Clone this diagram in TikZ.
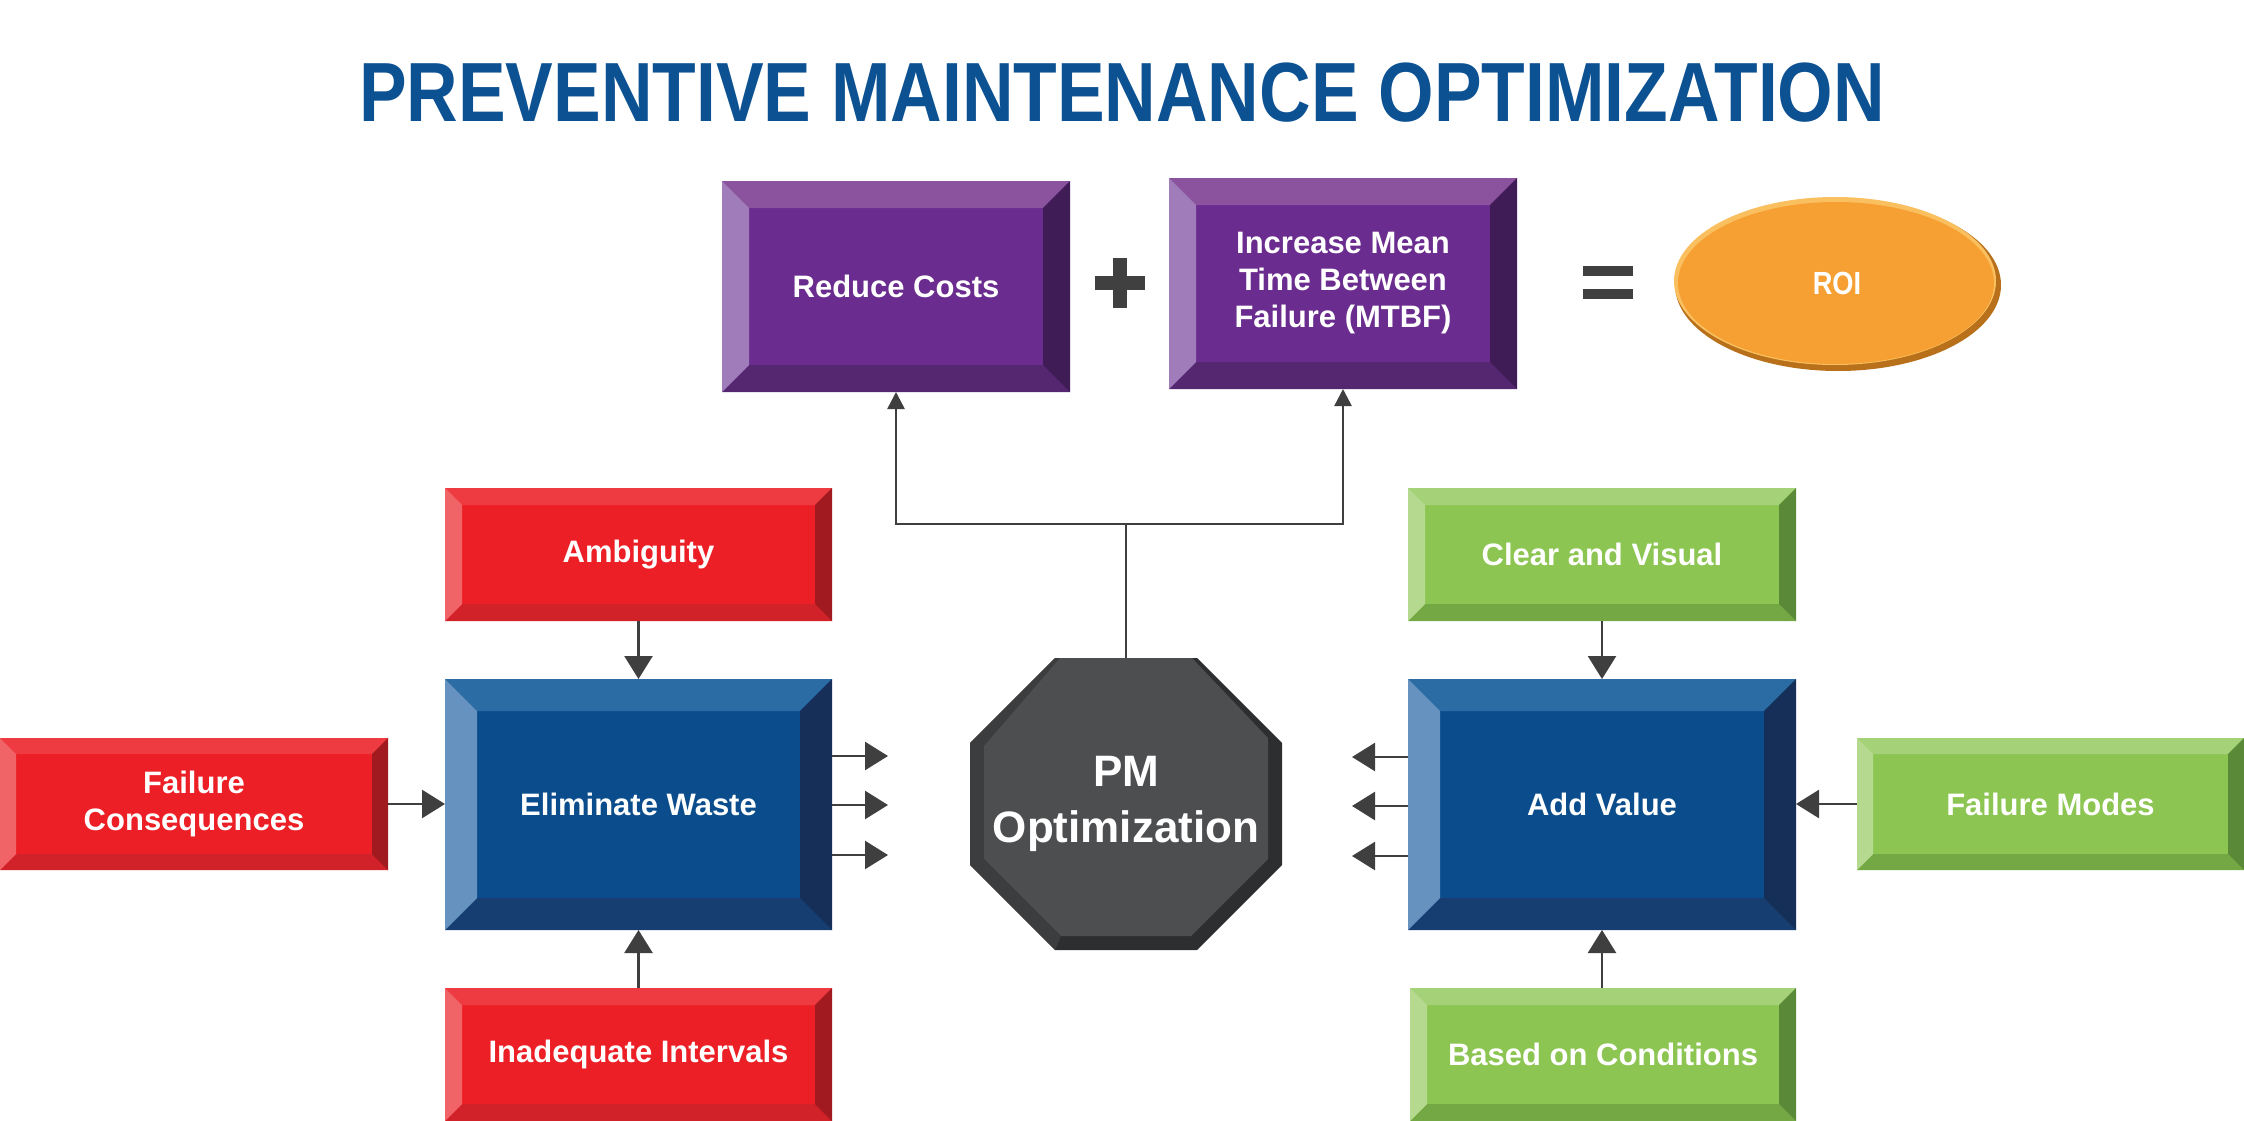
\documentclass[tikz,border=0pt]{standalone}
\usepackage{fontspec}
\setmainfont{Liberation Sans}
\usetikzlibrary{arrows.meta,shapes.geometric}
\definecolor{titleblue}{HTML}{0C5192}
\definecolor{purF}{HTML}{6A2C8E}\definecolor{purT}{HTML}{8B529E}\definecolor{purL}{HTML}{A07CBB}\definecolor{purR}{HTML}{3F1C56}\definecolor{purB}{HTML}{552770}
\definecolor{bluF}{HTML}{0B4D8C}\definecolor{bluT}{HTML}{2C6CA4}\definecolor{bluL}{HTML}{6692BF}\definecolor{bluR}{HTML}{152F58}\definecolor{bluB}{HTML}{173E70}
\definecolor{redF}{HTML}{ED1F26}\definecolor{redT}{HTML}{EE3B41}\definecolor{redL}{HTML}{F06468}\definecolor{redR}{HTML}{A01A1F}\definecolor{redB}{HTML}{D12229}
\definecolor{grnF}{HTML}{8DC553}\definecolor{grnT}{HTML}{A5D279}\definecolor{grnL}{HTML}{B5DA8F}\definecolor{grnR}{HTML}{5A8A37}\definecolor{grnB}{HTML}{73A844}
\definecolor{octF}{HTML}{4D4E50}\definecolor{octL}{HTML}{3C3D3E}\definecolor{octD}{HTML}{2D2E2F}
\definecolor{orgF}{HTML}{F6A033}\definecolor{orgD}{HTML}{B8701A}\definecolor{orgH}{HTML}{FAC060}
\definecolor{arrgray}{HTML}{3F3F3F}
\definecolor{signgray}{HTML}{404040}
\tikzset{
  boxtext/.style={text=white, font=\bfseries\fontsize{31}{37}\selectfont, align=center, inner sep=0pt, outer sep=0pt},
  conn/.style={draw=arrgray, line width=2.5pt},
  bigarr/.style={conn, -{Triangle[length=23pt,width=28pt]}},
  smallarr/.style={conn, -{Triangle[length=17pt,width=17pt]}}
}
\newcommand\bevbox[8]{%
  \fill[#7F] (#2,#3) rectangle (#4,#5);
  \fill[#7T] (#2,#3) -- (#4,#3) -- ({#4-#6},{#3+#6}) -- ({#2+#6},{#3+#6}) -- cycle;
  \fill[#7B] (#2,#5) -- (#4,#5) -- ({#4-#6},{#5-#6}) -- ({#2+#6},{#5-#6}) -- cycle;
  \fill[#7L] (#2,#3) -- ({#2+#6},{#3+#6}) -- ({#2+#6},{#5-#6}) -- (#2,#5) -- cycle;
  \fill[#7R] (#4,#3) -- ({#4-#6},{#3+#6}) -- ({#4-#6},{#5-#6}) -- (#4,#5) -- cycle;
  \node[boxtext, minimum width={(#4-#2)*1pt}, minimum height={(#5-#3)*1pt}] (#1) at ({(#2+#4)/2},{(#3+#5)/2}) {#8};
}
\begin{document}
\begin{tikzpicture}[x=1pt,y=-1pt]
\useasboundingbox (0,0) rectangle (2244,1121);
\fill[white] (0,0) rectangle (2244,1121);

% title
\node[anchor=base, text=titleblue, font=\bfseries\fontsize{84}{84}\selectfont, inner sep=0pt] (title) at (1122,122)
  {\scalebox{0.85}[1]{PREVENTIVE MAINTENANCE OPTIMIZATION}};

% top row
\bevbox{rc}{722}{181}{1070}{392}{27}{pur}{Reduce Costs}
\bevbox{mtbf}{1169}{178}{1517}{389}{27}{pur}{Increase Mean\\Time Between\\Failure (MTBF)}
\fill[signgray] (1113,258) rectangle (1127,308);
\fill[signgray] (1095,276) rectangle (1145,290);
\fill[signgray] (1583,266) rectangle (1633,276);
\fill[signgray] (1583,289) rectangle (1633,299);
\fill[orgD] (1838,285) ellipse [x radius=163pt, y radius=86pt];
\fill[orgH] (1835,281) ellipse [x radius=161pt, y radius=84pt];
\fill[orgF] (1836,283) ellipse [x radius=158pt, y radius=81pt];
\node[ellipse, minimum width=326pt, minimum height=172pt, inner sep=0pt, text=white,
  font=\bfseries\fontsize{32}{34}\selectfont] (roi) at (1837,283) {\scalebox{0.85}[1]{ROI}};

% left group
\bevbox{amb}{445}{488}{832}{621}{17}{red}{Ambiguity}
\bevbox{ew}{445}{679}{832}{930}{32}{blu}{Eliminate Waste}
\bevbox{ii}{445}{988}{832}{1121}{17}{red}{Inadequate Intervals}
\bevbox{fc}{0}{738}{388}{870}{16}{red}{Failure\\Consequences}

% right group
\bevbox{cv}{1408}{488}{1796}{621}{17}{grn}{Clear and Visual}
\bevbox{av}{1408}{679}{1796}{930}{32}{blu}{Add Value}
\bevbox{bc}{1410}{988}{1796}{1121}{17}{grn}{Based on Conditions}
\bevbox{fm}{1857}{738}{2244}{870}{16}{grn}{Failure Modes}

% octagon
\fill[octD] (1055,658) -- (1197,658) -- (1282,743) -- (1282,865) -- (1197,950) -- (1055,950) -- (970,865) -- (970,743) -- cycle;
\fill[octL] (970,743) -- (1055,658) -- (1060,658) -- (984,746) -- (984,859) -- (1061,936) -- (1055,950) -- (970,865) -- cycle;
\fill[octF] (1060,658) -- (1192,658) -- (1268,738) -- (1268,859) -- (1191,936) -- (1061,936) -- (984,859) -- (984,746) -- cycle;
\node[minimum width=312pt, minimum height=292pt, inner sep=0pt, text=white, align=center,
  font=\bfseries\fontsize{44}{56}\selectfont] (pm) at (1126,804) {PM\\Optimization};

% connectors to the top boxes
\coordinate (j) at (1126,524);
\draw[conn] (pm.north) -- (j);
\draw[smallarr] (j) -| (rc.south);
\draw[smallarr] (j) -| (mtbf.south);

% arrows into / out of Eliminate Waste
\draw[bigarr] (amb.south) -- (ew.north);
\draw[bigarr] (ii.north) -- (ew.south);
\draw[bigarr] (fc.east) -- (fc.east -| ew.west);
\coordinate (e1) at (888,756);
\coordinate (e2) at (888,805);
\coordinate (e3) at (888,855);
\draw[bigarr] (e1 -| ew.east) -- (e1);
\draw[bigarr] (e2 -| ew.east) -- (e2);
\draw[bigarr] (e3 -| ew.east) -- (e3);

% arrows into / out of Add Value
\draw[bigarr] (cv.south) -- (av.north);
\draw[bigarr] (av.south |- bc.north) -- (av.south);
\draw[bigarr] (fm.west) -- (fm.west -| av.east);
\coordinate (a1) at (1352,757);
\coordinate (a2) at (1352,806);
\coordinate (a3) at (1352,856);
\draw[bigarr] (a1 -| av.west) -- (a1);
\draw[bigarr] (a2 -| av.west) -- (a2);
\draw[bigarr] (a3 -| av.west) -- (a3);
\end{tikzpicture}
\end{document}
